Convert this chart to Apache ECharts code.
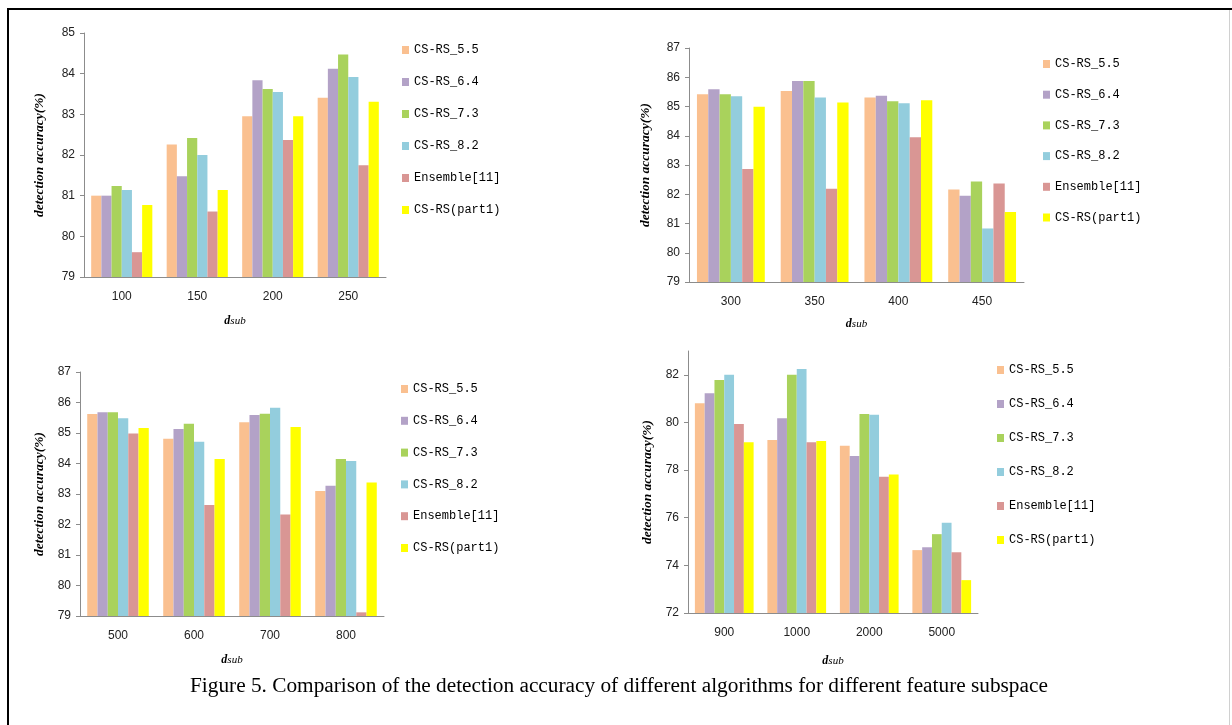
<!DOCTYPE html>
<html>
<head>
<meta charset="utf-8">
<script src="https://cdn.jsdelivr.net/npm/echarts@6/dist/echarts.min.js"></script>
<style>
html,body{margin:0;padding:0;background:#fff;}
#c{width:1232px;height:725px;}
</style>
</head>
<body>
<div id="c"></div>
<script>
// ---------- DATA ----------
const seriesNames = ['CS-RS_5.5', 'CS-RS_6.4', 'CS-RS_7.3', 'CS-RS_8.2', 'Ensemble[11]', 'CS-RS(part1)'];

// Panel A (top-left)
const catsA = ['100', '150', '200', '250'];
const cs55_A = [81.00, 82.26, 82.95, 83.41];
const cs64_A = [81.00, 81.48, 83.84, 84.12];
const cs73_A = [81.24, 82.42, 83.62, 84.47];
const cs82_A = [81.14, 82.00, 83.55, 83.92];
const ens_A  = [79.61, 80.61, 82.37, 81.75];
const part1_A = [80.77, 81.14, 82.95, 83.31];

// Panel B (top-right)
const catsB = ['300', '350', '400', '450'];
const cs55_B = [85.42, 85.53, 85.31, 82.16];
const cs64_B = [85.59, 85.87, 85.37, 81.95];
const cs73_B = [85.42, 85.87, 85.18, 82.44];
const cs82_B = [85.35, 85.31, 85.11, 80.83];
const ens_B  = [82.86, 82.19, 83.95, 82.37];
const part1_B = [84.99, 85.14, 85.21, 81.39];

// Panel C (bottom-left)
const catsC = ['500', '600', '700', '800'];
const cs55_C = [85.62, 84.81, 85.35, 83.10];
const cs64_C = [85.68, 85.13, 85.59, 83.27];
const cs73_C = [85.68, 85.30, 85.63, 84.15];
const cs82_C = [85.48, 84.71, 85.83, 84.08];
const ens_C  = [84.98, 82.64, 82.33, 79.12];
const part1_C = [85.16, 84.15, 85.20, 83.38];

// Panel D (bottom-right)
const catsD = ['900', '1000', '2000', '5000'];
const cs55_D = [80.81, 79.26, 79.02, 74.64];
const cs64_D = [81.23, 80.18, 78.59, 74.76];
const cs73_D = [81.78, 82.00, 80.36, 75.31];
const cs82_D = [82.00, 82.24, 80.32, 75.79];
const ens_D  = [79.93, 79.17, 77.72, 74.55];
const part1_D = [79.17, 79.22, 77.82, 73.38];

const caption = 'Figure 5. Comparison of the detection accuracy of different algorithms for different feature subspace';

// ---------- STYLE ----------
const colors = ['#FAC090', '#B3A2C7', '#A9D25C', '#93CDDD', '#D99694', '#FFFF00'];

const panels = [
  { cats: catsA, data: [cs55_A, cs64_A, cs73_A, cs82_A, ens_A, part1_A], min: 79, max: 85, interval: 1,
    grid: { left: 84, top: 33, width: 302, height: 244 }, yGap: 37, xGap: 38,
    legend: { left: 397, top: 39, itemGap: 20 } },
  { cats: catsB, data: [cs55_B, cs64_B, cs73_B, cs82_B, ens_B, part1_B], min: 79, max: 87, interval: 1,
    grid: { left: 689, top: 48, width: 335, height: 234 }, yGap: 36, xGap: 36,
    legend: { left: 1038, top: 53, itemGap: 18.7 } },
  { cats: catsC, data: [cs55_C, cs64_C, cs73_C, cs82_C, ens_C, part1_C], min: 79, max: 87, interval: 1,
    grid: { left: 80, top: 372, width: 304, height: 244 }, yGap: 33, xGap: 38,
    legend: { left: 396, top: 378, itemGap: 19.8 } },
  { cats: catsD, data: [cs55_D, cs64_D, cs73_D, cs82_D, ens_D, part1_D], min: 72, max: 83, interval: 2,
    grid: { left: 688, top: 351, width: 290, height: 262 }, yGap: 33, xGap: 42,
    legend: { left: 992, top: 359, itemGap: 22 } }
];

const grids = [], xAxes = [], yAxes = [], series = [], legends = [];
panels.forEach((p, i) => {
  grids.push(Object.assign({ containLabel: false }, p.grid));
  xAxes.push({
    type: 'category', gridIndex: i, data: p.cats,
    axisLine: { lineStyle: { color: '#8c8c8c', width: 1 } },
    axisTick: { show: false },
    axisLabel: { color: '#222', fontFamily: 'Liberation Sans', fontSize: 12, margin: 14 },
    name: '{b|d}{s|sub}', nameLocation: 'middle', nameGap: p.xGap,
    nameTextStyle: {
      rich: {
        b: { fontFamily: 'Liberation Serif', fontWeight: 'bold', fontStyle: 'italic', fontSize: 12, color: '#000' },
        s: { fontFamily: 'Liberation Serif', fontStyle: 'italic', fontSize: 11, color: '#000' }
      }
    }
  });
  yAxes.push({
    type: 'value', gridIndex: i, min: p.min, max: p.max, interval: p.interval,
    axisLine: { show: true, lineStyle: { color: '#8c8c8c', width: 1 } },
    axisTick: { show: true, length: 4, lineStyle: { color: '#8c8c8c' } },
    splitLine: { show: false },
    axisLabel: { color: '#222', fontFamily: 'Liberation Sans', fontSize: 12, margin: 9, showMaxLabel: p.max % p.interval === 0 },
    name: 'detection accuracy(%)', nameLocation: 'middle', nameGap: p.yGap, nameRotate: 90,
    nameTextStyle: { fontFamily: 'Liberation Serif', fontWeight: 'bold', fontStyle: 'italic', fontSize: 13.5, color: '#000' }
  });
  p.data.forEach((arr, k) => {
    series.push({
      type: 'bar', name: seriesNames[k], xAxisIndex: i, yAxisIndex: i,
      data: arr, barGap: '0%', barCategoryGap: '19%',
      itemStyle: { color: colors[k] }, silent: true
    });
  });
  legends.push({
    data: seriesNames, orient: 'vertical', left: p.legend.left, top: p.legend.top,
    itemGap: p.legend.itemGap, itemWidth: 7, itemHeight: 8, icon: 'rect',
    selectedMode: false,
    textStyle: { fontFamily: 'Liberation Mono', fontSize: 12, color: '#000', lineHeight: 12 }
  });
});

const chart = echarts.init(document.getElementById('c'), null, { renderer: 'canvas' });
chart.setOption({
  animation: false,
  backgroundColor: '#fff',
  grid: grids, xAxis: xAxes, yAxis: yAxes, series: series, legend: legends,
  graphic: [
    { type: 'line', shape: { x1: 8, y1: 9, x2: 1232, y2: 9 }, style: { stroke: '#000', lineWidth: 2 } },
    { type: 'line', shape: { x1: 8, y1: 8, x2: 8, y2: 725 }, style: { stroke: '#000', lineWidth: 2 } },
    { type: 'line', shape: { x1: 1229.5, y1: 10, x2: 1229.5, y2: 725 }, style: { stroke: '#d0d0d0', lineWidth: 1 } },
    { type: 'text', left: 190, top: 676,
      style: { text: caption, font: '21.3px "Liberation Serif"', fill: '#000' } }
  ]
});
</script>
</body>
</html>
